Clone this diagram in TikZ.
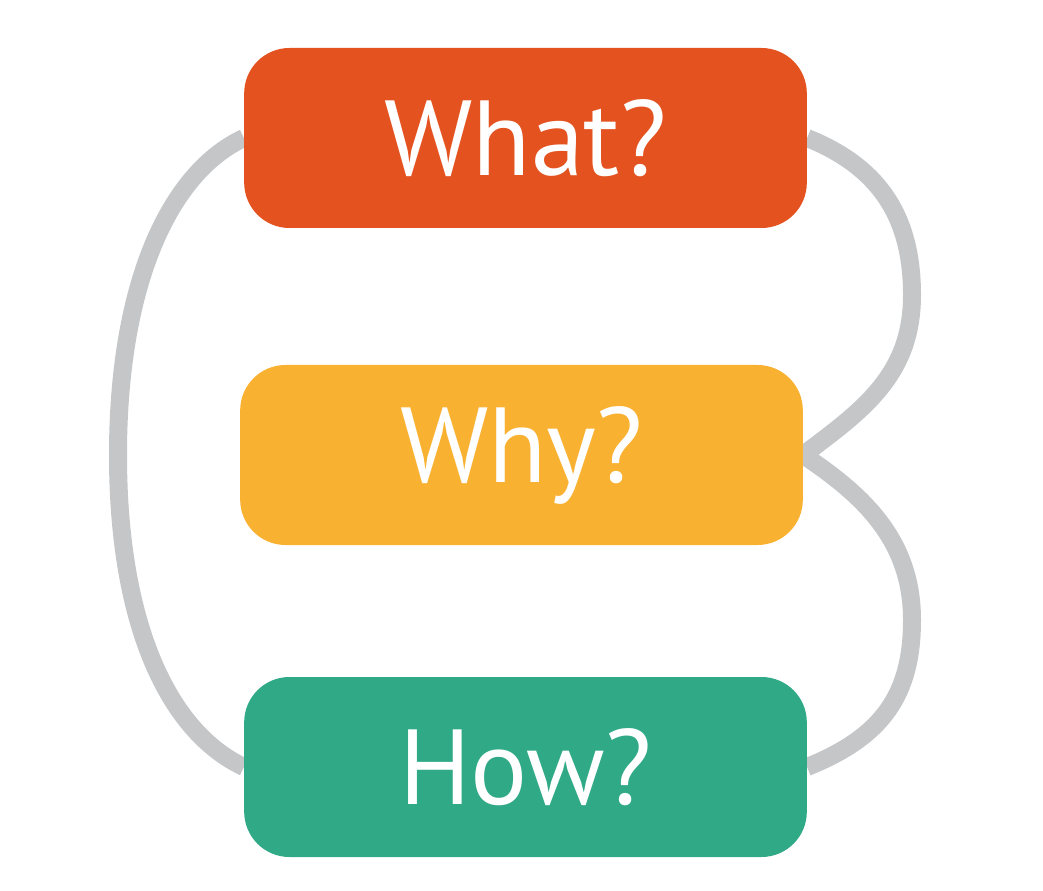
\documentclass[tikz,border=0pt]{standalone}
\usepackage{fontspec}
\setmainfont{PT Sans}
\usetikzlibrary{backgrounds}
\definecolor{cwhat}{HTML}{E4521F}
\definecolor{cwhy}{HTML}{F9B132}
\definecolor{chow}{HTML}{2FA986}
\definecolor{clink}{HTML}{C5C6C8}
\begin{document}
\begin{tikzpicture}[x=0.75pt,y=-0.75pt, line join=round, line cap=round,
	box/.style={rounded corners=34pt, minimum width=422pt, minimum height=135pt, inner sep=0pt, text=white, font=\fontsize{80}{80}\selectfont},
	link/.style={draw=clink, line width=13.5pt}]
			\useasboundingbox (0,0) rectangle (1043,891);
			\node[box, fill=cwhat] (what) at (525.5,138) {What?};
			\node[box, fill=cwhy] (why) at (521.5,455) {Why?};
			\node[box, fill=chow] (how) at (525.5,767) {How?};
			\begin{scope}[on background layer]
			\draw[link] (what.west) .. controls +(-75,35) and +(0,-170) .. (118,455) .. controls +(0,170) and +(-75,-35) .. (how.west);
			\draw[link] (what.east) .. controls +(75,30) and +(0,-75) .. (912,295) .. controls +(0,80) and +(60,-45) .. (why.east);
			\draw[link] (why.east) .. controls +(60,40) and +(0,-80) .. (912,620) .. controls +(0,75) and +(75,-30) .. (how.east);
			\end{scope}
	\end{tikzpicture}
\end{document}
